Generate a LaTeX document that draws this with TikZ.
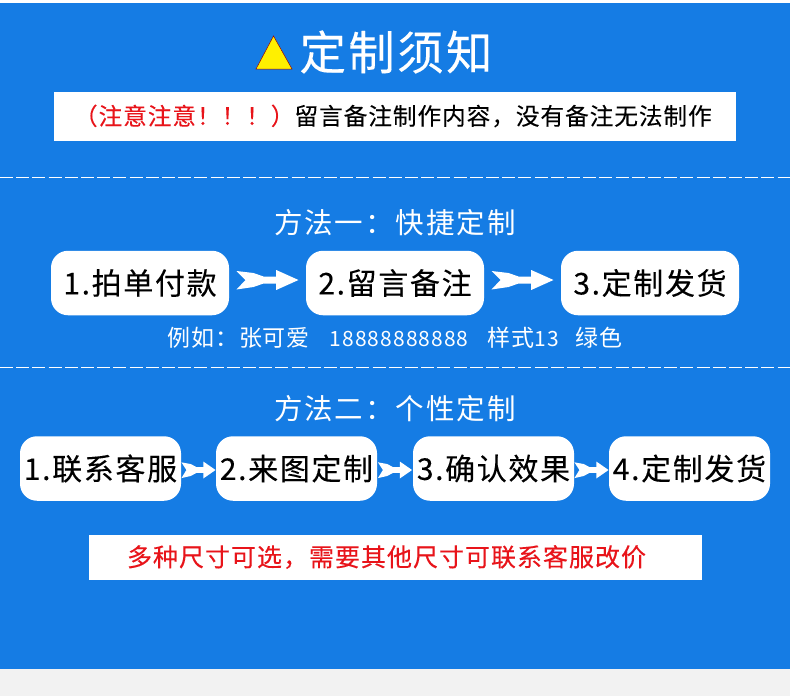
\documentclass[tikz,border=0pt]{standalone}
\usepackage{fontspec}
\usetikzlibrary{calc}
\newfontfamily\fntitle[LetterSpace=5,FakeBold=0.1]{Noto Sans CJK SC}
\newfontfamily\fnnote[LetterSpace=3.8,FakeBold=0.12]{Noto Sans CJK SC}
\newfontfamily\fnhead[LetterSpace=7]{Noto Sans CJK SC}
\newfontfamily\fnstep[LetterSpace=5.5,FakeBold=0.15]{Noto Sans CJK SC}
\newfontfamily\fnsub[LetterSpace=4]{Noto Sans CJK SC}
\newfontfamily\fnnum[LetterSpace=5]{Noto Sans CJK SC}
\newfontfamily\fnred[LetterSpace=4,FakeBold=0.25]{Noto Sans CJK SC}
\newcommand\numtext[1]{{\fnnum\fontsize{21}{21}\selectfont #1}}
\definecolor{bgblue}{HTML}{157CE4}
\definecolor{pagegray}{HTML}{F2F2F2}
\definecolor{alert}{HTML}{E8141A}
\definecolor{warn}{HTML}{FFF000}
\tikzset{
  every node/.style={inner sep=0pt,outer sep=0pt,align=center},
  titletext/.style={text=white,font=\fntitle\fontsize{46.5}{46.5}\selectfont},
  headtext/.style={text=white,font=\fnhead\fontsize{28.5}{28.5}\selectfont},
  subtext/.style={text=white,font=\fnsub\fontsize{23}{23}\selectfont},
  notetext/.style={font=\fnnote\fontsize{23.7}{23.7}\selectfont},
  stepbox/.style={fill=white,rounded corners=17pt,minimum height=64.5pt,text=black,font=\fnstep\fontsize{30}{30}\selectfont},
  wide/.style={stepbox,minimum width=178pt},
  narrow/.style={stepbox,minimum width=161pt},
  divider/.style={draw=white,line width=1pt,dash pattern=on 13pt off 3.2pt},
}
% white notched arrow centred between two nodes; #3 = horizontal scale, #4 = vertical scale, #5 = vertical offset
\newcommand\fatarrow[5]{%
  \fill[white,shift={($(#1.east)!.5!(#2.west)+(0,#5)$)},xscale=#3,yscale=#4]
    (-31,-9) -- (-14,-7) -- (-4,-3.5) -- (8.7,-3.5) -- (8.7,-10) -- (31,0)
    -- (8.7,10) -- (8.7,3.5) -- (-4,3.5) -- (-14,7) -- (-31,9.5) -- (-22,0) -- cycle;}
\begin{document}
\begin{tikzpicture}[x=1pt,y=-1pt]
\useasboundingbox (0,0) rectangle (790,696);
\fill[pagegray] (0,0) rectangle (790,696);
\fill[white] (0,0) rectangle (790,3);
\fill[bgblue] (0,2.5) rectangle (790,669);
\filldraw[fill=warn,draw=red!60!black,line width=.5pt] (273.5,36) -- (292,69) -- (256,69) -- cycle;
\node[titletext] (title) at (396,52) {定制须知};
\node[fill=white,minimum width=682pt,minimum height=49pt] (note) at (395,116.5) {};
\node[notetext,anchor=west] (notelabel) at (74,116) {\textcolor{alert}{（注意注意！！！）}留言备注制作内容，没有备注无法制作};
\draw[divider] (0,177) -- (790,177);
\node[headtext] (m1) at (395,223) {方法一：快捷定制};
\node[wide] (a1) at (140,283) {1.拍单付款};
\node[wide] (a2) at (395,283) {2.留言备注};
\node[wide] (a3) at (650,283) {3.定制发货};
\fatarrow{a1}{a2}{1}{1}{-3}
\fatarrow{a2}{a3}{1}{1}{-3}
\node[subtext] (ex) at (395,338) {例如：张可爱\hspace{20pt}\numtext{18888888888}\hspace{19pt}样式\numtext{13}\hspace{17pt}绿色};
\draw[divider] (0,367) -- (790,367);
\node[headtext] (m2) at (395,409) {方法二：个性定制};
\node[narrow] (b1) at (100.5,468.5) {1.联系客服};
\node[narrow] (b2) at (296.5,468.5) {2.来图定制};
\node[narrow] (b3) at (493.5,468.5) {3.确认效果};
\node[narrow] (b4) at (689.5,468.5) {4.定制发货};
\fatarrow{b1}{b2}{.55}{.85}{1.5}
\fatarrow{b2}{b3}{.55}{.85}{1.5}
\fatarrow{b3}{b4}{.55}{.85}{1.5}
\node[fill=white,minimum width=613pt,minimum height=45pt] (foot) at (395.5,557.5) {};
\node[text=alert,font=\fnred\fontsize{25}{25}\selectfont] (foottext) at (386.5,557) {多种尺寸可选，需要其他尺寸可联系客服改价};
\end{tikzpicture}
\end{document}
